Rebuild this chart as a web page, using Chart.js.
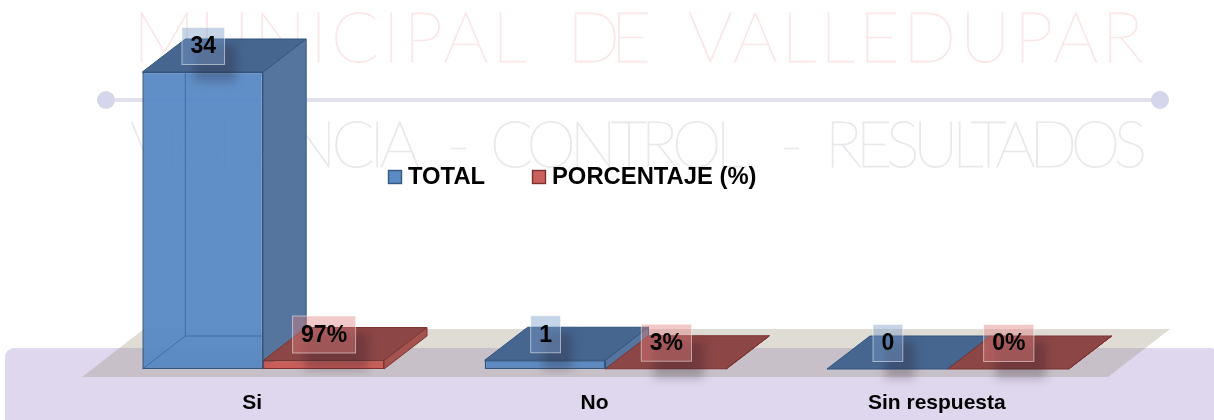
<!DOCTYPE html>
<html>
<head>
<meta charset="utf-8">
<style>html,body{margin:0;padding:0;background:#fff}canvas{display:block;filter:blur(0.45px)}</style>
<script src="https://cdn.jsdelivr.net/npm/chart.js@4"></script>
</head>
<body>
<canvas id="c" width="1214" height="420"></canvas>
<script>
const categories = ['Si', 'No', 'Sin respuesta'];
const totalValues = [34, 1, 0];
const percentValues = [0.97, 0.03, 0];
const seriesNames = ['TOTAL', 'PORCENTAJE (%)'];
const watermarkTopWords = ['MUNICIPAL', 'DE', 'VALLEDUPAR'];
const watermarkBottomWords = ['VIGILANCIA', '-', 'CONTROL', '-', 'RESULTADOS'];

const DX = 43, DY = 33;
const styles = [
  {front:'rgba(84,134,196,0.93)', edge:'#2f5580', back:'rgba(47,100,160,0.75)', top:'#466690', side:'#55759f', legend:'#5b8ac4', legendEdge:'#38587f', box:'rgba(122,155,201,0.43)'},
  {front:'rgba(200,88,84,0.95)', edge:'#7d3431', back:'rgba(125,52,49,0.6)', top:'#8c4646', side:'#a5534f', legend:'#c9605d', legendEdge:'#7d3431', box:'rgba(224,126,126,0.42)'}
];

function poly(ctx, pts, fill, stroke) {
  ctx.beginPath();
  pts.forEach((p, i) => i ? ctx.lineTo(p[0], p[1]) : ctx.moveTo(p[0], p[1]));
  ctx.closePath();
  if (fill) { ctx.fillStyle = fill; ctx.fill(); }
  if (stroke) { ctx.strokeStyle = stroke; ctx.lineWidth = 1; ctx.stroke(); }
}
function fitText(ctx, text, x0, x1, baseline, font, color) {
  ctx.font = font;
  ctx.letterSpacing = '0px';
  ctx.textAlign = 'left';
  ctx.textBaseline = 'alphabetic';
  const w = ctx.measureText(text).width;
  if (text.length > 1) ctx.letterSpacing = ((x1 - x0 - w) / (text.length - 1)) + 'px';
  ctx.fillStyle = color;
  ctx.strokeStyle = color;
  ctx.lineWidth = 0.9;
  ctx.fillText(text, x0, baseline);
  ctx.strokeText(text, x0, baseline);
  ctx.letterSpacing = '0px';
}

const scenePlugin = {
  id: 'scene',
  beforeDraw(chart) {
    const ctx = chart.ctx;
    ctx.save();
    ctx.fillStyle = '#dfd7ee';
    ctx.beginPath();
    ctx.roundRect(5, 348, 1214, 80, 9);
    ctx.fill();
    const topSpans = [[133, 527], [567, 651], [688, 1143]];
    watermarkTopWords.forEach((w, i) => fitText(ctx, w, topSpans[i][0], topSpans[i][1], 62, '100 70px Lato', '#fbe7e7'));
    const botSpans = [[130, 420], [447, 465], [490, 747], [780, 798], [825, 1147]];
    watermarkBottomWords.forEach((w, i) => fitText(ctx, w, botSpans[i][0], botSpans[i][1], 167, '100 63px Lato', '#e9e8ec'));
    ctx.strokeStyle = '#e2e0ee';
    ctx.lineWidth = 4;
    ctx.beginPath(); ctx.moveTo(106, 100); ctx.lineTo(1160, 100); ctx.stroke();
    ctx.fillStyle = '#d5d5eb';
    [106, 1160].forEach(x => { ctx.beginPath(); ctx.arc(x, 100, 9, 0, Math.PI * 2); ctx.fill(); });
    ctx.restore();
  },
  beforeDatasetsDraw(chart) {
    const ctx = chart.ctx;
    ctx.save();
    const b = chart.scales.y.getPixelForValue(0);
    poly(ctx, [[82, b + 8], [1108, b + 8], [1170, b - 40], [144, b - 40]], 'rgba(150,140,115,0.3)');
    categories.forEach((_, i) => {
      [0, 1].forEach(d => {
        const el = chart.getDatasetMeta(d).data[i];
        const l = el.x - el.width / 2, r = el.x + el.width / 2, t = el.y, bt = el.base, s = styles[d];
        poly(ctx, [[l, t], [r, t], [r + DX, t - DY], [l + DX, t - DY]], s.top, s.edge);
        poly(ctx, [[r, t], [r + DX, t - DY], [r + DX, bt - DY], [r, bt]], s.side, s.edge);
      });
    });
    ctx.restore();
  },
  afterDatasetsDraw(chart) {
    const ctx = chart.ctx;
    ctx.save();
    categories.forEach((_, i) => {
      const el = chart.getDatasetMeta(0).data[i];
      if (el.base - el.y < 20) return;
      const l = el.x - el.width / 2, r = el.x + el.width / 2;
      ctx.strokeStyle = styles[0].back;
      ctx.lineWidth = 1;
      ctx.beginPath();
      ctx.moveTo(l + DX, el.y); ctx.lineTo(l + DX, el.base - DY);
      ctx.moveTo(l, el.base); ctx.lineTo(l + DX, el.base - DY); ctx.lineTo(r, el.base - DY);
      ctx.stroke();
    });
    ctx.font = 'bold 23px "Liberation Sans"';
    ctx.textAlign = 'center';
    ctx.textBaseline = 'middle';
    [totalValues, percentValues].forEach((vals, d) => {
      vals.forEach((v, i) => {
        const el = chart.getDatasetMeta(d).data[i];
        const txt = d === 0 ? String(v) : Math.round(v * 100) + '%';
        const w = ctx.measureText(txt).width + 17, h = 37;
        const cx = el.x + 0.5, cy = el.y - 26;
        const x = cx - w / 2, y = cy - h / 2;
        ctx.save();
        ctx.filter = 'blur(5px)';
        ctx.fillStyle = 'rgba(30,20,30,0.25)';
        ctx.fillRect(x + 12, y + 17, w, h);
        ctx.restore();
        ctx.fillStyle = styles[d].box;
        ctx.fillRect(x, y, w, h);
        ctx.strokeStyle = 'rgba(255,255,255,0.5)';
        ctx.lineWidth = 1;
        ctx.strokeRect(x, y, w, h);
        ctx.fillStyle = '#000';
        ctx.fillText(txt, cx, cy + 1);
      });
    });
    ctx.textAlign = 'left';
    ctx.font = 'bold 23.8px "Liberation Sans"';
    const lx = [388, 532];
    seriesNames.forEach((n, d) => {
      const s = styles[d];
      ctx.fillStyle = s.legend;
      ctx.fillRect(lx[d] + 0.5, 170.5, 13, 13);
      ctx.strokeStyle = s.legendEdge;
      ctx.lineWidth = 1.4;
      ctx.strokeRect(lx[d] + 0.5, 170.5, 13, 13);
      ctx.fillStyle = '#000';
      ctx.fillText(n, lx[d] + 20, 177);
    });
    ctx.restore();
  }
};

new Chart(document.getElementById('c'), {
  type: 'bar',
  data: {
    labels: categories,
    datasets: [
      {label: seriesNames[0], data: totalValues, categoryPercentage: 0.706, barPercentage: 1, backgroundColor: styles[0].front, borderColor: styles[0].edge, borderWidth: 1.5, borderSkipped: false, clip: false},
      {label: seriesNames[1], data: percentValues, categoryPercentage: 0.706, barPercentage: 1, backgroundColor: styles[1].front, borderColor: styles[1].edge, borderWidth: 1, borderSkipped: false, clip: false}
    ]
  },
  options: {
    responsive: false,
    animation: false,
    layout: {padding: {left: 92, right: 95, top: 72, bottom: 0}},
    plugins: {legend: {display: false}, tooltip: {enabled: false}},
    scales: {
      x: {
        afterFit(s) { s.height = 51; },
        grid: {display: false, drawTicks: false},
        border: {display: false},
        ticks: {color: '#000', font: {family: '"Liberation Sans"', size: 21, weight: 'bold'}, padding: 22, labelOffset: -11, maxRotation: 0}
      },
      y: {display: false, min: 0, max: 34}
    }
  },
  plugins: [scenePlugin]
});
</script>
</body>
</html>
